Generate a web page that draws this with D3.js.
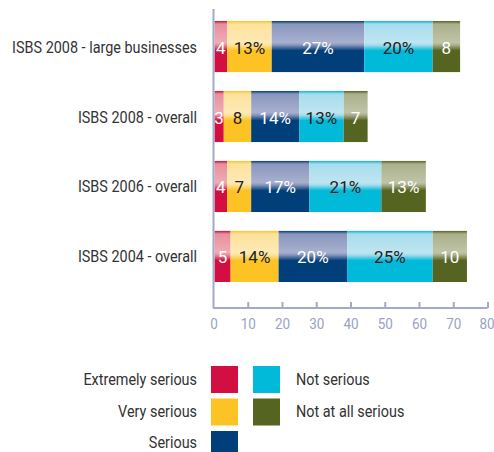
<!DOCTYPE html>
<html><head><meta charset="utf-8">
<script src="https://cdn.jsdelivr.net/npm/d3@7"></script>
<style>
html,body{margin:0;padding:0;background:#fff;}
svg{display:block;}
text{font-family:Roboto,"Liberation Sans",sans-serif;}
</style></head>
<body>
<script>
const categories = ["ISBS 2008 - large businesses","ISBS 2008 - overall","ISBS 2006 - overall","ISBS 2004 - overall"];
const seriesNames = ["Extremely serious","Very serious","Serious","Not serious","Not at all serious"];
const extremelySerious = [4,3,4,5];
const verySerious = [13,8,7,14];
const serious = [27,14,17,20];
const notSerious = [20,13,21,25];
const notAtAllSerious = [8,7,13,10];
const tickValues = [0,10,20,30,40,50,60,70,80];

const seriesValues = [extremelySerious, verySerious, serious, notSerious, notAtAllSerious];
const colors = ["#d20f40","#fdc324","#003f7a","#01bad9","#566421"];
const lightColors = ["#e98f9c","#fde29c","#8a96bd","#a8dcec","#aab08b"];
const textColors = ["#fff","#222","#fff","#222","#fff"];
const SX = 0.9; // condensed look

const W=494,H=452;
const svg = d3.select("body").append("svg").attr("width",W).attr("height",H);
const defs = svg.append("defs");
colors.forEach((c,i)=>{
  const g = defs.append("linearGradient").attr("id","g"+i).attr("x1",0).attr("y1",0).attr("x2",0).attr("y2",1);
  [[0,c],[0.06,lightColors[i]],[0.42,d3.interpolateRgb(lightColors[i],"#fff")(0.25)],[0.47,lightColors[i]],[0.58,c],[1,c]]
    .forEach(([o,col])=>g.append("stop").attr("offset",o).attr("stop-color",col));
});

const x = d3.scaleLinear().domain([0,80]).range([213.5,487.5]);
const y = d3.scaleBand().domain(categories).range([21,282]).paddingInner(0.27);

const stackData = categories.map((c,ci)=>{
  let acc=0;
  return seriesValues.map((arr,si)=>{ const v=arr[ci]; const s={cat:c,si,v,x0:acc,x1:acc+v}; acc+=v; return s;});
});

const rows = svg.append("g").selectAll("g").data(stackData).join("g");
rows.selectAll("rect").data(d=>d).join("rect")
  .attr("x",d=>x(d.x0)+ (d.si===0?1:0))
  .attr("y",d=>y(d.cat))
  .attr("width",d=>x(d.x1)-x(d.x0)-(d.si===0?1:0))
  .attr("height",y.bandwidth())
  .attr("fill",d=>`url(#g${d.si})`);
rows.selectAll("text").data(d=>d).join("text")
  .attr("transform",d=>`translate(${(x(d.x0)+x(d.x1))/2 + (d.si===0?0.5:0)},${y(d.cat)+y.bandwidth()/2+7})`)
  .attr("text-anchor","middle")
  .attr("font-size",17)
  .attr("fill",d=>textColors[d.si])
  .text(d=>d.v>=12? d.v+"%" : d.v);

// category labels
svg.append("g").selectAll("text").data(categories).join("text")
  .attr("transform",d=>`translate(197,${y(d)+y.bandwidth()/2+6}) scale(${SX},1)`)
  .attr("text-anchor","end").attr("font-size",16).attr("fill","#333")
  .text(d=>d);

// axes
const axisColor="#a3aac8";
svg.append("line").attr("x1",213.5).attr("x2",213.5).attr("y1",9).attr("y2",308.5)
  .attr("stroke",axisColor).attr("stroke-width",2);
const xAxis = svg.append("g").attr("transform","translate(0,308)")
  .call(d3.axisTop(x).tickValues(tickValues).tickSize(6).tickFormat(d=>d));
xAxis.select(".domain").attr("stroke",axisColor).attr("stroke-width",2).attr("d",`M${x(0)},0H${x(80)}`);
xAxis.selectAll(".tick line").attr("stroke",axisColor).attr("stroke-width",2);
xAxis.selectAll(".tick text").attr("y",0).attr("dy",null)
  .attr("transform",d=>`translate(${d===80?-1:0},21) scale(${SX},1)`)
  .attr("font-size",15).attr("fill","#9aa2c4").attr("font-family",null);
xAxis.selectAll(".tick").filter(d=>d===0).select("line").remove();

// legend
const legendItems = [
  {name:seriesNames[0],i:0,col:0,row:0},
  {name:seriesNames[1],i:1,col:0,row:1},
  {name:seriesNames[2],i:2,col:0,row:2},
  {name:seriesNames[3],i:3,col:1,row:0},
  {name:seriesNames[4],i:4,col:1,row:1}
];
const lg = svg.append("g").selectAll("g").data(legendItems).join("g");
lg.append("rect")
  .attr("x",d=>d.col?253:211).attr("y",d=>366+d.row*32.5)
  .attr("width",27).attr("height",27).attr("fill",d=>colors[d.i]);
lg.append("text")
  .attr("transform",d=>`translate(${d.col?296:197},${385+d.row*31.5}) scale(${SX},1)`)
  .attr("text-anchor",d=>d.col?"start":"end")
  .attr("font-size",16).attr("fill","#333")
  .text(d=>d.name);
</script>
</body></html>
